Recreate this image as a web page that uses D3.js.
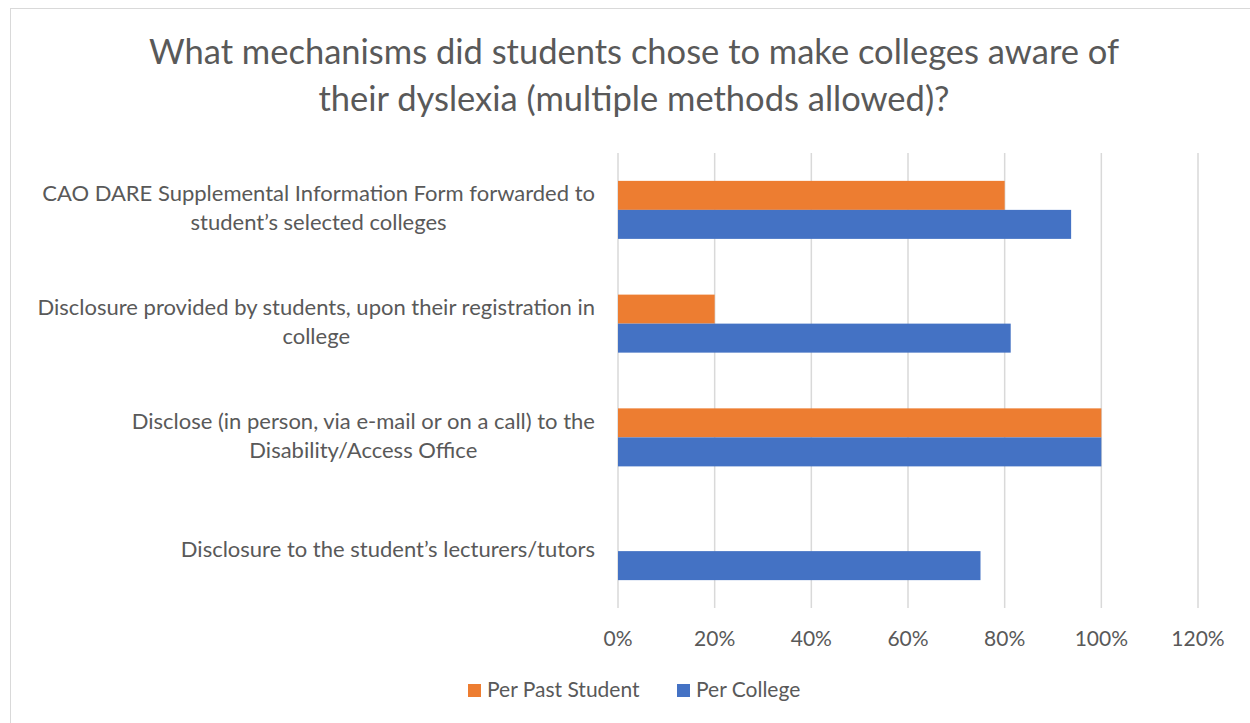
<!DOCTYPE html>
<html>
<head>
<meta charset="utf-8">
<script src="https://cdn.jsdelivr.net/npm/d3@7"></script>
<style>
  body { margin: 0; background: #fff; }
  text { font-family: Lato, "Open Sans", sans-serif; fill: #595959; }
</style>
</head>
<body>
<div id="chart"></div>
<script>
(function() {
  var WIDTH = 1250, HEIGHT = 723;

  var categories = [
    ['CAO DARE Supplemental Information Form forwarded to', 'student\u2019s selected colleges'],
    ['Disclosure provided by students, upon their registration in', 'college'],
    ['Disclose (in person, via e-mail or on a call) to the', 'Disability/Access Office'],
    ['Disclosure to the student\u2019s lecturers/tutors']
  ];
  var seriesNames = ['Per Past Student', 'Per College'];
  var pastStudent = [0.80, 0.20, 1.00, 0.00];
  var perCollege = [0.9375, 0.8125, 1.00, 0.75];
  var xTicks = [0, 0.2, 0.4, 0.6, 0.8, 1.0, 1.2];
  var colors = ['#ED7D31', '#4472C4'];
  var titleLines = ['What mechanisms did students chose to make colleges aware of',
                    'their dyslexia (multiple methods allowed)?'];

  var svg = d3.select('#chart').append('svg')
    .attr('width', WIDTH)
    .attr('height', HEIGHT);

  // chart frame
  svg.append('rect')
    .attr('x', 10.5).attr('y', 8.5)
    .attr('width', 1250).attr('height', 730)
    .attr('fill', '#fff')
    .attr('stroke', '#d9d9d9');

  svg.selectAll('.title').data(titleLines).enter().append('text')
    .attr('class', 'title')
    .attr('x', 634)
    .attr('y', function(d, i) { return 64 + i * 47; })
    .attr('text-anchor', 'middle')
    .style('font-size', '34.5px')
    .text(function(d) { return d; });

  var x = d3.scaleLinear().domain([0, 1.2]).range([618, 1198]);
  var y = d3.scaleBand().domain(d3.range(categories.length)).range([153, 608]).paddingInner(0.49).paddingOuter(0.245);
  var sub = d3.scaleBand().domain([0, 1]).range([0, y.bandwidth()]);

  // gridlines
  svg.append('g').selectAll('line').data(xTicks).enter().append('line')
    .attr('x1', function(d) { return x(d); })
    .attr('x2', function(d) { return x(d); })
    .attr('y1', 153).attr('y2', 608)
    .attr('stroke', '#d9d9d9')
    .attr('stroke-width', 1.5);

  // tick labels
  svg.append('g').selectAll('text').data(xTicks).enter().append('text')
    .attr('x', function(d) { return x(d); })
    .attr('y', 646)
    .attr('text-anchor', 'middle')
    .style('font-size', '21px')
    .text(d3.format('.0%'));

  var rows = categories.map(function(c, i) { return [pastStudent[i], perCollege[i]]; });

  var groups = svg.append('g').selectAll('g').data(rows).enter().append('g')
    .attr('transform', function(d, i) { return 'translate(0,' + y(i) + ')'; });

  groups.selectAll('rect').data(function(d) { return d; }).enter().append('rect')
    .attr('x', x(0))
    .attr('y', function(d, j) { return sub(j); })
    .attr('width', function(d) { return x(d) - x(0); })
    .attr('height', sub.bandwidth())
    .attr('fill', function(d, j) { return colors[j]; });

  // category labels: block right-aligned, lines centred in block
  var labels = svg.append('g').selectAll('g').data(categories).enter().append('g');
  labels.each(function(lines, i) {
    var g = d3.select(this);
    var cy = y(i) + y.bandwidth() / 2 - 2;
    var lh = 29;
    var t = g.selectAll('text').data(lines).enter().append('text')
      .attr('y', function(d, k) { return cy + (k - (lines.length - 1) / 2) * lh + 8; })
      .attr('text-anchor', 'middle')
      .style('font-size', '22px')
      .text(function(d) { return d; });
    var maxW = d3.max(t.nodes(), function(n) { return n.getComputedTextLength(); });
    t.attr('x', 595 - maxW / 2);
  });

  // legend
  var legend = svg.append('g');
  var lx = [468, 677];
  seriesNames.forEach(function(name, i) {
    legend.append('rect')
      .attr('x', lx[i]).attr('y', 684)
      .attr('width', 13).attr('height', 13)
      .attr('fill', colors[i]);
    legend.append('text')
      .attr('x', lx[i] + 19).attr('y', 697)
      .style('font-size', '21px')
      .text(name);
  });
})();
</script>
</body>
</html>
